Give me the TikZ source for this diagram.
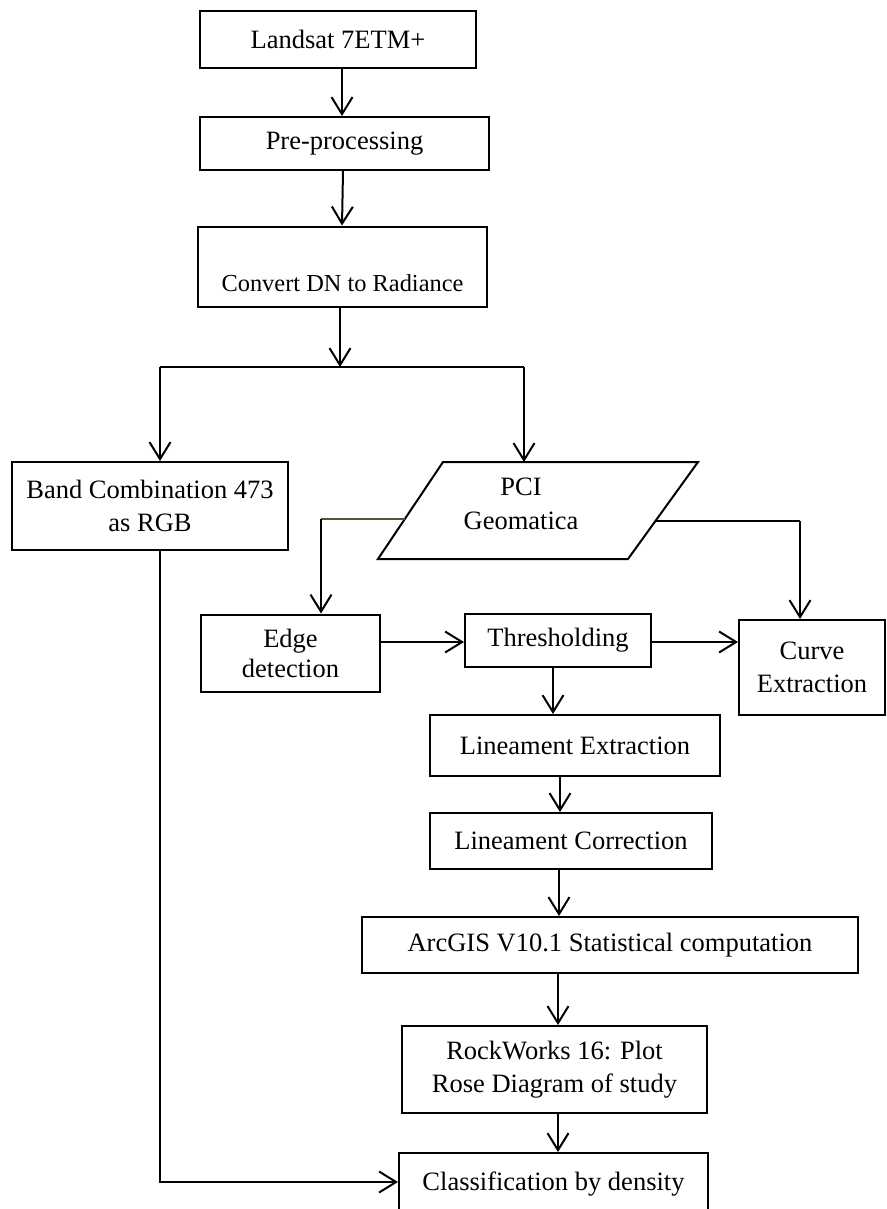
\documentclass[tikz,border=0pt]{standalone}
\usepackage{fontspec}
\setmainfont{Liberation Serif}
\usetikzlibrary{arrows.meta}
\definecolor{olivebrown}{RGB}{90,80,56}
\tikzset{
  box/.style={draw, line width=2pt, inner sep=0pt, align=center,
    font=\fontsize{26.5}{33.5}\selectfont},
  conn/.style={line width=2pt},
  arr/.style={conn, -{Straight Barb[length=17pt,width=21pt]}},
}
\begin{document}
\begin{tikzpicture}[x=1pt,y=-1pt]
\useasboundingbox (0,0) rectangle (886,1209);
\clip (0,0) rectangle (886,1209);
% nodes
\node[box, minimum width=276, minimum height=57] (land) at (338,39.5) {Landsat 7ETM+};
\node[box, minimum width=289, minimum height=53] (pre) at (344.5,143.5) {Pre-processing};
\node[box, minimum width=289, minimum height=80, text height=57pt, text depth=8pt,
      font=\fontsize{24.4}{30}\selectfont] (conv) at (342.5,266.5) {Convert DN to Radiance};
\node[box, minimum width=276, minimum height=88] (band) at (150,506) {Band Combination 473\\as RGB};
% parallelogram PCI
\draw[line width=2pt] (378,559) -- (443,462) -- (698,462) -- (628,559) -- cycle;
\node[align=center, inner sep=0pt, font=\fontsize{26.5}{33.5}\selectfont] (pci) at (521,504) {PCI\\Geomatica};
\coordinate (pcitop) at (524,462);
\coordinate (pciL) at (405,519);
\coordinate (pciR) at (655,521);
\node[box, minimum width=179, minimum height=77, font=\fontsize{26.5}{30}\selectfont] (edge) at (290.5,653) {Edge\\detection};
\node[box, minimum width=186, minimum height=53] (thr) at (558,640.5) {Thresholding};
\node[box, minimum width=146, minimum height=95] (curve) at (812,667.5) {Curve\\Extraction};
\node[box, minimum width=290, minimum height=61] (lext) at (575,745.5) {Lineament Extraction};
\node[box, minimum width=282, minimum height=56] (lcor) at (571,841) {Lineament Correction};
\node[box, minimum width=496, minimum height=56] (arc) at (610,945) {ArcGIS V10.1 Statistical computation};
\node[box, minimum width=305, minimum height=87] (rock) at (554.5,1069.5) {RockWorks 16: Plot\\Rose Diagram of study};
\node[box, minimum width=309, minimum height=62] (cls) at (553.5,1184) {Classification by density};
% branch coordinates
\coordinate (br) at (340,367);
\coordinate (bl) at (160,367);
\coordinate (brr) at (524,367);
% connectors
\draw[arr] (land.south -| 342,0) -- (pre.north -| 342,0);
\draw[arr] (pre.south -| 343,0) -- (conv.north -| 342,0);
\draw[arr] (conv.south -| br) -- (br);
\draw[conn] (bl) -- (brr);
\draw[arr] (bl) -- (band.north -| bl);
\draw[arr] (brr) -- (pcitop);
\draw[conn, olivebrown] (pciL) -- (321,519);
\draw[arr] (321,519) -- (edge.north -| 321,0);
\draw[conn] (pciR) -- (800,521);
\draw[arr] (800,521) -- (curve.north -| 800,0);
\draw[arr] (edge.east |- 0,642) -- (thr.west |- 0,642);
\draw[arr] (thr.east |- 0,642) -- (curve.west |- 0,642);
\draw[arr] (thr.south -| 553,0) -- (lext.north -| 553,0);
\draw[arr] (lext.south -| 560,0) -- (lcor.north -| 560,0);
\draw[arr] (lcor.south -| 559,0) -- (arc.north -| 559,0);
\draw[arr] (arc.south -| 558,0) -- (rock.north -| 558,0);
\draw[arr] (rock.south -| 558,0) -- (cls.north -| 558,0);
\draw[arr] (band.south -| bl) |- (cls.west |- 0,1182);
\end{tikzpicture}
\end{document}
